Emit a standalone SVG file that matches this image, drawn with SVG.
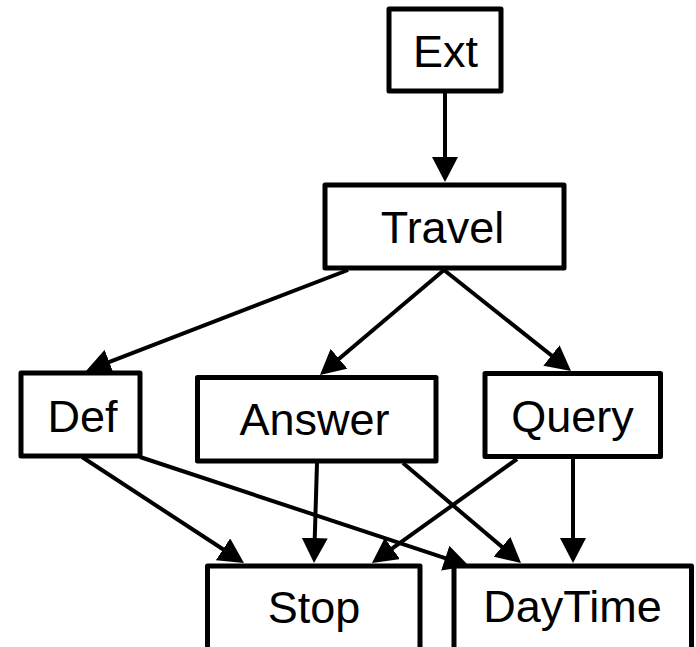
<svg xmlns="http://www.w3.org/2000/svg" width="696" height="647" viewBox="0 0 696 647">
  <defs>
    <style>
      .box { fill: #ffffff; stroke: #000000; stroke-width: 5; stroke-linejoin: round; }
      .label { font-family: "Liberation Sans", Arial, sans-serif; font-size: 45px; fill: #000000; text-anchor: middle; }
      .edge { fill: none; stroke: #000000; stroke-width: 4; marker-end: url(#arrow); }
    </style>
    <!-- arrowhead: tip sits 10px beyond the end of each line -->
    <marker id="arrow" markerUnits="userSpaceOnUse" markerWidth="26" markerHeight="26" refX="15" refY="13" orient="auto">
      <path d="M0,0 L25,13 L0,26 Z" fill="#000000"/>
    </marker>
  </defs>

  <rect width="696" height="647" fill="#ffffff"/>

  <g id="node-ext">
    <rect class="box" x="389" y="9" width="112" height="82"/>
    <text class="label" x="445.5" y="67">Ext</text>
  </g>
  <g id="node-travel">
    <rect class="box" x="325" y="185" width="239" height="83"/>
    <text class="label" x="442.5" y="243">Travel</text>
  </g>
  <g id="node-def">
    <rect class="box" x="21" y="373" width="119" height="83"/>
    <text class="label" x="82.5" y="432">Def</text>
  </g>
  <g id="node-answer">
    <rect class="box" x="197.5" y="377.5" width="238.5" height="83.5"/>
    <text class="label" x="314.5" y="435">Answer</text>
  </g>
  <g id="node-query">
    <rect class="box" x="485" y="373.5" width="175.5" height="83"/>
    <text class="label" x="572.5" y="432">Query</text>
  </g>
  <g id="node-stop">
    <rect class="box" x="207.5" y="566" width="212.5" height="100"/>
    <text class="label" x="314" y="623">Stop</text>
  </g>
  <g id="node-daytime">
    <rect class="box" x="454" y="566" width="237.5" height="100"/>
    <text class="label" x="572.5" y="622">DayTime</text>
  </g>

  <g id="connectors">
    <line class="edge" x1="445" y1="93" x2="445" y2="172"/>
    <line class="edge" x1="348" y1="270" x2="95.3" y2="367.4"/>
    <line class="edge" x1="444" y1="270" x2="327.6" y2="368.5"/>
    <line class="edge" x1="444" y1="270" x2="563.2" y2="364.8"/>
    <line class="edge" x1="82" y1="457" x2="235.6" y2="557.5"/>
    <line class="edge" x1="140" y1="457" x2="459.5" y2="562.9"/>
    <line class="edge" x1="317" y1="463" x2="314.3" y2="553"/>
    <line class="edge" x1="403" y1="463" x2="513.4" y2="556.5"/>
    <line class="edge" x1="517" y1="459" x2="380.1" y2="557.2"/>
    <line class="edge" x1="573" y1="459" x2="573" y2="553"/>
  </g>
</svg>
